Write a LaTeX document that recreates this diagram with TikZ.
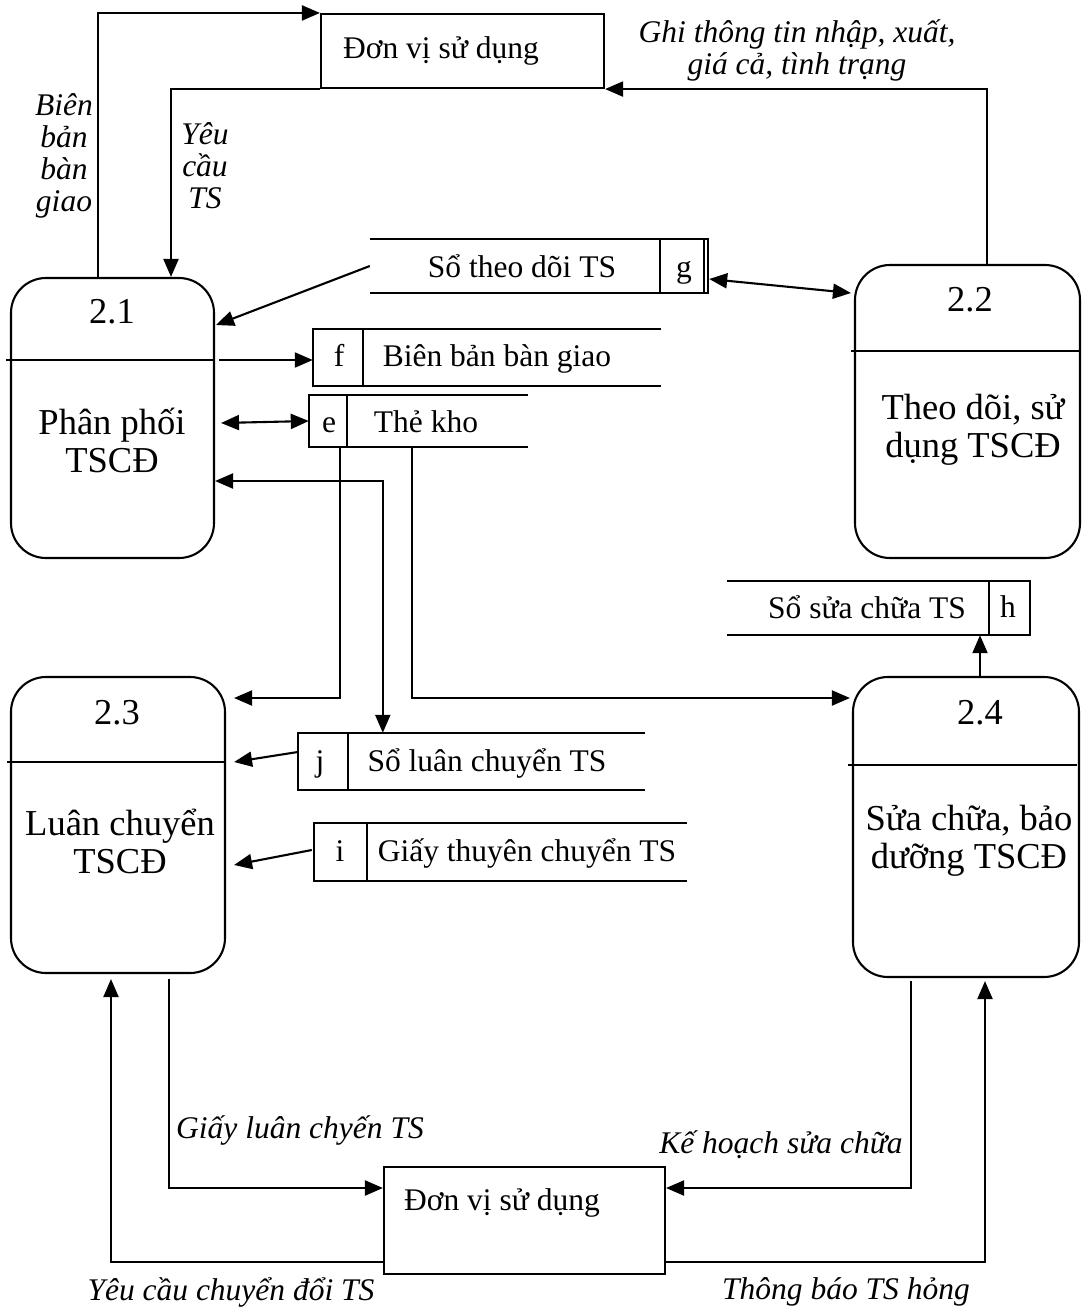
\documentclass[tikz,border=0pt]{standalone}
\usepackage{fontspec}
\setmainfont{Liberation Serif}
\usetikzlibrary{arrows.meta,calc}
\begin{document}
\begin{tikzpicture}[x=1pt,y=-1pt,
  ln/.style={line width=2.1pt},
  tip/.tip={Triangle[length=18pt,width=15pt]},
  arr/.style={ln,-tip},
  darr/.style={ln,tip-tip},
  proc/.style={draw,ln,rounded corners=35pt,inner sep=0pt},
  ext/.style={draw,ln,inner sep=0pt},
  store/.style={inner sep=0pt},
  lbl/.style={font=\fontsize{31.5}{32}\selectfont,inner sep=0pt,text height=27pt,text depth=6pt},
  ilbl/.style={font=\fontsize{31.5}{32}\selectfont\itshape,inner sep=0pt,align=center},
  ptxt/.style={font=\fontsize{36.5}{38}\selectfont,inner sep=0pt,align=center},
]
\useasboundingbox (0,0) rectangle (1084,1310);

% ---------- processes ----------
\node[proc,minimum width=203pt,minimum height=280pt] (p21) at (112.5,418) {};
\node[proc,minimum width=225pt,minimum height=293pt] (p22) at (967.5,411.5) {};
\node[proc,minimum width=214pt,minimum height=296pt] (p23) at (118,825) {};
\node[proc,minimum width=226pt,minimum height=300pt] (p24) at (966,827) {};

\draw[ln] ($(p21.west)+(-4,-58)$) -- ($(p21.east)+(0,-58)$);
\draw[ln] ($(p22.west)+(-3,-60.5)$) -- ($(p22.east)+(0,-60.5)$);
\draw[ln] ($(p23.west)+(-3,-63)$) -- ($(p23.east)+(0,-63)$);
\draw[ln] ($(p24.west)+(-4,-62)$) -- ($(p24.east)+(-3,-62)$);

\node[ptxt] (n21) at (112,312) {2.1};
\node[ptxt] (t21) at (112,440) {Phân phối\\TSCĐ};
\node[ptxt] (n22) at (970,300) {2.2};
\node[ptxt] (t22) at (973,430) {Theo dõi, sử\\dụng TSCĐ};
\node[ptxt] (n23) at (117,713) {2.3};
\node[ptxt] (t23) at (120,841) {Luân chuyển\\TSCĐ};
\node[ptxt] (n24) at (980,713) {2.4};
\node[ptxt] (t24) at (969,841) {Sửa chữa, bảo\\dưỡng TSCĐ};

% ---------- external entities ----------
\node[ext,minimum width=283pt,minimum height=74pt] (ext1) at (462.5,51) {};
\node[lbl] (ext1t) at (441,48) {Đơn vị sử dụng};
\node[ext,minimum width=281pt,minimum height=107pt] (ext2) at (524.5,1220.5) {};
\node[lbl] (ext2t) at (502,1200) {Đơn vị sử dụng};

% ---------- data stores ----------
\node[store,minimum width=348pt,minimum height=57pt] (sf) at (487,357.5) {};
\node[store,minimum width=219pt,minimum height=52pt] (se) at (418.5,421) {};
\node[store,minimum width=347pt,minimum height=57pt] (sj) at (471.5,761.5) {};
\node[store,minimum width=373pt,minimum height=58pt] (si) at (500.5,852) {};
\node[store,minimum width=338pt,minimum height=54pt] (sg) at (539,266) {};
\node[store,minimum width=303pt,minimum height=54pt] (sh) at (878.5,608) {};

% stores open on the right
\draw[ln] (sf.north east) -- (sf.north west) -- (sf.south west) -- (sf.south east);
\draw[ln] ($(sf.north west)+(50,0)$) -- ($(sf.south west)+(50,0)$);
\draw[ln] (se.north east) -- (se.north west) -- (se.south west) -- (se.south east);
\draw[ln] ($(se.north west)+(38,0)$) -- ($(se.south west)+(38,0)$);
\draw[ln] (sj.north east) -- (sj.north west) -- (sj.south west) -- (sj.south east);
\draw[ln] ($(sj.north west)+(50,0)$) -- ($(sj.south west)+(50,0)$);
\draw[ln] (si.north east) -- (si.north west) -- (si.south west) -- (si.south east);
\draw[ln] ($(si.north west)+(53,0)$) -- ($(si.south west)+(53,0)$);
% stores open on the left
\draw[ln] (sg.north west) -- (sg.north east) -- (sg.south east) -- (sg.south west);
\draw[ln] ($(sg.north east)+(-4,0)$) -- ($(sg.south east)+(-4,0)$);
\draw[ln] ($(sg.north east)+(-48,0)$) -- ($(sg.south east)+(-48,0)$);
\draw[ln] (sh.north west) -- (sh.north east) -- (sh.south east) -- (sh.south west);
\draw[ln] ($(sh.north east)+(-41,0)$) -- ($(sh.south east)+(-41,0)$);

\node[lbl] (sft) at (339,356) {f};
\node[lbl] (sfn) at (497,356) {Biên bản bàn giao};
\node[lbl] (set) at (329,422) {e};
\node[lbl] (sen) at (426,422) {Thẻ kho};
\node[lbl] (sjt) at (320,761) {j};
\node[lbl] (sjn) at (487,761) {Sổ luân chuyển TS};
\node[lbl] (sit) at (340,851) {i};
\node[lbl] (sin) at (527,851) {Giấy thuyên chuyển TS};
\node[lbl] (sgt) at (684,267) {g};
\node[lbl] (sgn) at (522,267) {Sổ theo dõi TS};
\node[lbl] (sht) at (1008,607) {h};
\node[lbl] (shn) at (867,608) {Sổ sửa chữa TS};

% ---------- flows at the top ----------
\draw[arr] ($(p21.north)+(-14.5,0)$) |- (ext1.north west);
\draw[arr] (ext1.south west) -| ($(p21.north)+(58.5,0)$);
\draw[arr] ($(p22.north)+(19.5,0)$) |- (ext1.south east);
\node[ilbl] (l1) at (64,156) {Biên\\bản\\bàn\\giao};
\node[ilbl] (l2) at (205,166) {Yêu\\cầu\\TS};
\node[ilbl] (l3) at (797,50) {Ghi thông tin nhập, xuất,\\giá cả, tình trạng};

% ---------- flows between processes and stores ----------
\draw[arr] (sg.west) -- ($(p21.east)+(1,-93)$);
\draw[darr] ($(sg.east)+(1,13)$) -- ($(p22.west)+(-3,-118.5)$);
\draw[arr] ($(p21.east)+(4,-58)$) -- ($(sf.west)+(0,2.5)$);
\draw[darr] ($(p21.east)+(6,5)$) -- (se.west);
\draw[arr] ($(se.south west)+(31,0)$) |- ($(p23.east)+(8,-127)$);
\draw[arr] ($(se.south west)+(103,0)$) |- ($(p24.west)+(-2,-129)$);
\draw[darr] ($(p21.east)+(0,63)$) -| ($(sj.north west)+(85,0)$);
\draw[arr] ($(sj.west)+(0,-9.5)$) -- ($(p23.east)+(8,-63)$);
\draw[arr] ($(si.west)+(-2,-2)$) -- ($(p23.east)+(8,40)$);
\draw[arr] ($(p24.north)+(14,0)$) -- ($(sh.south)+(101.5,0)$);

% ---------- flows at the bottom ----------
\draw[arr] ($(p23.south)+(51,5)$) |- ($(ext2.west)+(0,-32.5)$);
\draw[arr] ($(ext2.west)+(0,41.5)$) -| ($(p23.south)+(-7,5)$);
\draw[arr] ($(p24.south)+(-55,3)$) |- ($(ext2.east)+(0,-32.5)$);
\draw[arr] ($(ext2.east)+(0,41.5)$) -| ($(p24.south)+(19,3)$);
\node[ilbl] (l4) at (300,1130) {Giấy luân chyến TS};
\node[ilbl] (l5) at (781,1145) {Kế hoạch sửa chữa};
\node[ilbl] (l6) at (231,1292) {Yêu cầu chuyển đổi TS};
\node[ilbl] (l7) at (846,1292) {Thông báo TS hỏng};
\end{tikzpicture}
\end{document}
